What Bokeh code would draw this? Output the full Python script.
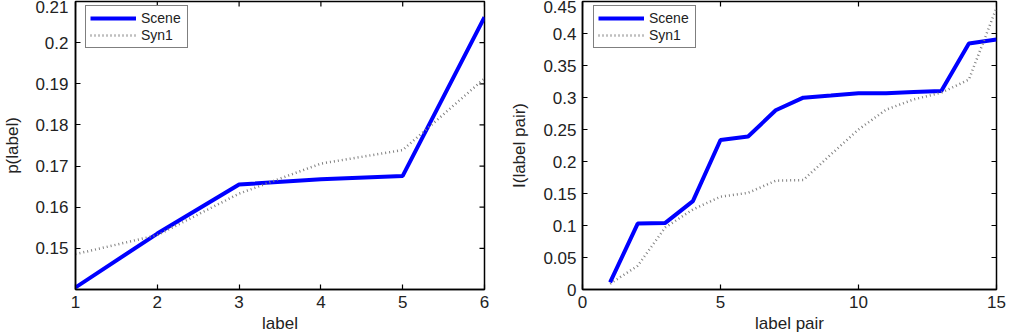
import math
from bokeh.plotting import figure
from bokeh.layouts import row
from bokeh.models import FixedTicker, CustomJSTickFormatter, Range1d, Legend, LegendItem
from bokeh.embed import file_html
from bokeh.resources import INLINE

# Left panel data
label_x = [1, 2, 3, 4, 5, 6]
label_scene = [0.1405, 0.1536, 0.1655, 0.1668, 0.1676, 0.2062]
label_syn1 = [0.1486, 0.1532, 0.1633, 0.1706, 0.1739, 0.1913]
label_xticks = [1, 2, 3, 4, 5, 6]
label_yticks = [0.15, 0.16, 0.17, 0.18, 0.19, 0.20, 0.21]

# Right panel data
pair_x = list(range(1, 16))
pair_scene = [0.011, 0.103, 0.104, 0.138, 0.2336, 0.239, 0.280, 0.2997, 0.303,
              0.3065, 0.3065, 0.3086, 0.310, 0.3845, 0.3907]
pair_syn1 = [0.009, 0.037, 0.097, 0.125, 0.145, 0.151, 0.170, 0.171, 0.211,
             0.250, 0.281, 0.297, 0.3075, 0.328, 0.440]
pair_xticks = [0, 5, 10, 15]
pair_yticks = [0, 0.05, 0.1, 0.15, 0.2, 0.25, 0.3, 0.35, 0.4, 0.45]

FONT = "Liberation Sans"
fmt_code = "var s = tick.toFixed(2); s = s.replace(/0+$/, ''); s = s.replace(/\\.$/, ''); return s;"


def style_axis(ax, ticks):
    ax.ticker = FixedTicker(ticks=ticks)
    ax.major_tick_in = 5
    ax.major_tick_out = 0
    ax.minor_tick_in = 0
    ax.minor_tick_out = 0
    ax.axis_line_color = "black"
    ax.axis_line_width = 1.5
    ax.major_tick_line_color = "black"
    ax.major_tick_line_width = 1.2
    ax.major_label_text_font = FONT
    ax.axis_label_text_font = FONT
    ax.axis_label_text_font_style = "normal"
    ax.axis_label_text_color = "#222222"
    ax.major_label_text_color = "#222222"
    ax.major_label_text_font_size = "17px"
    ax.axis_label_text_font_size = "17px"


def make_panel(xs, scene, syn1, xr, yr, xticks, yticks, xlabel, ylabel, width,
               bl, br, ystand, ylab_stand, leg_x):
    p = figure(width=width, height=336, output_backend="svg", toolbar_location=None,
               x_range=Range1d(*xr), y_range=Range1d(*yr),
               min_border_left=bl, min_border_right=br, min_border_top=1,
               min_border_bottom=47)
    p.xgrid.visible = False
    p.ygrid.visible = False
    p.outline_line_color = "black"
    p.outline_line_width = 1.5

    style_axis(p.xaxis[0], xticks)
    p.xaxis[0].axis_label = xlabel
    p.xaxis[0].major_label_standoff = 6
    p.xaxis[0].axis_label_standoff = 3

    style_axis(p.yaxis[0], yticks)
    p.yaxis[0].axis_label = ylabel
    p.yaxis[0].major_label_standoff = ystand
    p.yaxis[0].axis_label_standoff = ylab_stand
    p.yaxis[0].formatter = CustomJSTickFormatter(code=fmt_code)

    # inward ticks on the top and right edges of the box
    p.ray(x=xticks, y=[yr[1]] * len(xticks), length=5, length_units="screen",
          angle=-math.pi / 2, line_color="black", line_width=1.2)
    p.ray(x=[xr[1]] * len(yticks), y=yticks, length=5, length_units="screen",
          angle=math.pi, line_color="black", line_width=1.2)

    r1 = p.line(xs, scene, line_color="#0000ff", line_width=4)
    r2 = p.line(xs, syn1, line_color="#808080", line_width=2.5, line_dash="1 3")

    legend = Legend(items=[LegendItem(label="Scene", renderers=[r1]),
                           LegendItem(label="Syn1", renderers=[r2])],
                    location=(leg_x, 241))
    legend.padding = 4
    legend.spacing = 1
    legend.label_height = 14
    legend.glyph_height = 14
    legend.glyph_width = 46
    legend.label_width = 42
    legend.label_standoff = 5
    legend.label_text_line_height = 1.0
    legend.label_text_font = FONT
    legend.label_text_font_size = "14px"
    legend.label_text_color = "#222222"
    legend.border_line_color = "black"
    legend.border_line_width = 1.5
    legend.background_fill_alpha = 1.0
    p.add_layout(legend, "center")
    return p


p1 = make_panel(label_x, label_scene, label_syn1, (1, 6), (0.14, 0.21),
                label_xticks, label_yticks, "label", "p(label)", 505, 71, 21, 7, 10, 10)
p2 = make_panel(pair_x, pair_scene, pair_syn1, (0, 15), (0, 0.45),
                pair_xticks, pair_yticks, "label pair", "I(label pair)", 504, 77, 13, 6, 11, 11)

p = row(p1, p2)
open("out.html", "w").write(file_html(p, INLINE))
